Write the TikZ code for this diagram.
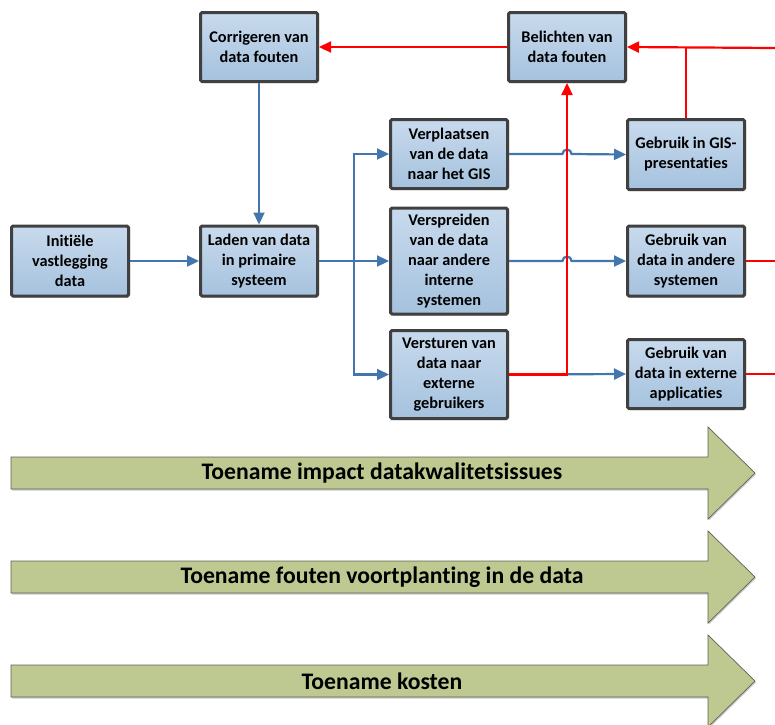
\documentclass[tikz,border=0pt]{standalone}
\usepackage{fontspec}
\setmainfont[Ligatures=NoCommon]{Carlito}
\usetikzlibrary{arrows.meta,shadows,calc}
\definecolor{boxtop}{RGB}{200,218,237}
\definecolor{boxbot}{RGB}{165,194,222}
\definecolor{boxline}{RGB}{64,64,64}
\definecolor{flowblue}{RGB}{66,118,172}
\definecolor{flowred}{RGB}{255,0,0}
\definecolor{bigfill}{RGB}{190,201,145}
\definecolor{bigline}{RGB}{95,95,85}
\tikzset{
  procbox/.style={draw=boxline, line width=3pt, rounded corners=1.5pt,
    top color=boxtop, bottom color=boxbot, minimum width=117pt,
    align=center, font=\fontsize{16.3}{20}\selectfont\bfseries, text=black,
    inner sep=0pt,
    drop shadow={shadow xshift=1.5pt, shadow yshift=-1.5pt, opacity=0.25, fill=black}},
  blueflow/.style={draw=flowblue, line width=2.2pt, -{Triangle[length=12pt,width=11pt]}},
  redflow/.style={draw=flowred, line width=2.2pt, -{Triangle[length=12pt,width=11pt]}},
  redline/.style={draw=flowred, line width=2.2pt},
  bigarrow/.style={fill=bigfill, draw=bigline, line width=0.7pt,
    drop shadow={shadow xshift=1pt, shadow yshift=-1.5pt, opacity=0.2, fill=black}},
  bigtext/.style={font=\fontsize{23.7}{28}\selectfont\bfseries, text=black, inner sep=0pt}
}
\begin{document}
\begin{tikzpicture}[x=1pt,y=1pt]
\useasboundingbox (0,0) rectangle (775,-724);

% boxes
\node[procbox, minimum height=69pt] (corr) at (259,-47) {Corrigeren van\\data fouten};
\node[procbox, minimum height=69pt] (bel) at (567,-47) {Belichten van\\data fouten};
\node[procbox, minimum height=70pt] (init) at (70,-261) {Initiële\\vastlegging\\data};
\node[procbox, minimum height=70pt] (laden) at (259,-261) {Laden van data\\in primaire\\systeem};
\node[procbox, minimum height=69pt] (verpl) at (449,-154) {Verplaatsen\\van de data\\naar het GIS};
\node[procbox, minimum height=106pt] (versp) at (449,-261) {Verspreiden\\van de data\\naar andere\\interne\\systemen};
\node[procbox, minimum height=88pt] (verst) at (449,-374.5) {Versturen van\\data naar\\externe\\gebruikers};
\node[procbox, minimum height=70pt] (gis) at (686,-154.5) {Gebruik in GIS-\\presentaties};
\node[procbox, minimum height=70pt] (andere) at (686,-261) {Gebruik van\\data in andere\\systemen};
\node[procbox, minimum height=69pt] (ext) at (686,-374) {Gebruik van\\data in externe\\applicaties};

% coordinates
\coordinate (split) at (354,-261);
\coordinate (edgeA) at (775,-48);
\coordinate (edgeB) at (775,-261);
\coordinate (edgeC) at (775,-374);

% blue connectors
\draw[blueflow] (init.east) -- (laden.west);
\draw[blueflow] (corr.south) -- (laden.north);
\draw[blueflow] (laden.east) -- (versp.west);
\draw[blueflow] (split) |- (verpl.west);
\draw[blueflow] (split) |- (verst.west);
\draw[blueflow] (verpl.east) -- ([xshift=-4.5pt]bel.south |- verpl.east)
   arc[start angle=180, end angle=0, radius=4.5pt] -- (gis.west);
\draw[blueflow] (versp.east) -- ([xshift=-4.5pt]bel.south |- versp.east)
   arc[start angle=180, end angle=0, radius=4.5pt] -- (andere.west);
\draw[blueflow] (verst.east) -- (ext.west);

% red connectors
\draw[redflow] (verst.east) -- (bel.south |- verst.east) -- (bel.south);
\draw[redflow] (bel.west) -- (corr.east);
\draw[redflow] (edgeA) -- (bel.east);
\draw[redline] (gis.north) -- (gis.north |- edgeA);
\draw[redline] (andere.east) -- (edgeB);
\draw[redline] (ext.east) -- (edgeC);

% big arrows
\foreach \c/\nm/\txt in {-473/arA/Toename impact datakwalitetsissues,
                         -577/arB/Toename fouten voortplanting in de data,
                         -681/arC/Toename kosten}{
  \path[bigarrow] (11,\c+16) -- (708,\c+16) -- (708,\c+46) -- (755,\c)
     -- (708,\c-46) -- (708,\c-16) -- (11,\c-16) -- cycle;
  \node[bigtext] (\nm) at (382,\c) {\txt};
}
\end{tikzpicture}
\end{document}
